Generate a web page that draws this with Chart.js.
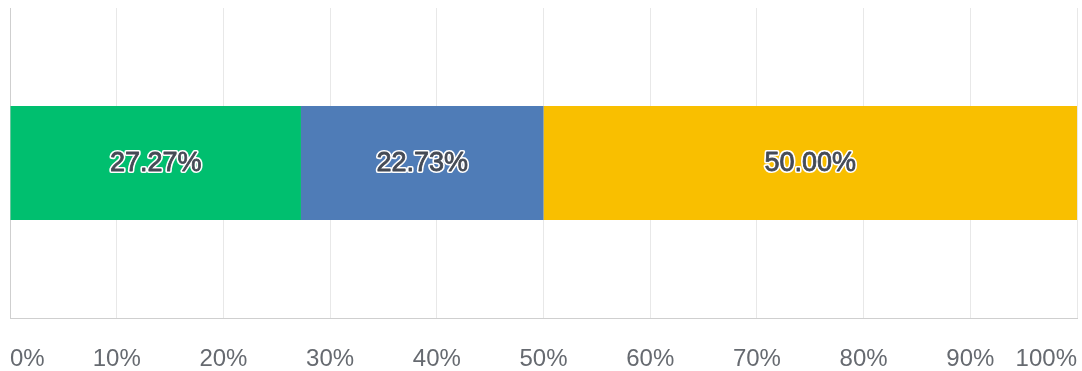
<!DOCTYPE html>
<html>
<head>
<meta charset="utf-8">
<script src="https://cdn.jsdelivr.net/npm/chart.js@4/dist/chart.umd.min.js"></script>
<style>
  html, body { margin: 0; padding: 0; background: #ffffff; }
  #wrap { width: 1082px; height: 371px; }
</style>
</head>
<body>
<div id="wrap"><canvas id="c" width="1082" height="371"></canvas></div>
<script>
// Single stacked row, shares in percent
const categories = [''];
const seriesNames = ['Segment A', 'Segment B', 'Segment C'];
const seriesValues = [[27.27], [22.73], [50.00]];
const seriesColors = ['#00bf6f', '#4f7cb7', '#f9bf00'];
const tickValues = [0, 10, 20, 30, 40, 50, 60, 70, 80, 90, 100];

// Percentage text centred on each bar segment, dark fill with white halo
const segmentLabels = {
  id: 'segmentLabels',
  afterDatasetsDraw(chart) {
    const ctx = chart.ctx;
    ctx.save();
    ctx.font = '27px "Liberation Sans", Arial, sans-serif';
    ctx.textAlign = 'center';
    ctx.textBaseline = 'middle';
    ctx.lineJoin = 'round';
    chart.data.datasets.forEach((ds, i) => {
      const meta = chart.getDatasetMeta(i);
      meta.data.forEach((bar, j) => {
        const p = bar.getProps(['x', 'y', 'base'], true);
        const cx = (p.x + p.base) / 2;
        const txt = ds.data[j].toFixed(2) + '%';
        ctx.lineWidth = 4;
        ctx.strokeStyle = '#ffffff';
        ctx.strokeText(txt, cx, p.y + 1);
        ctx.lineWidth = 0.8;
        ctx.strokeStyle = '#444a55';
        ctx.strokeText(txt, cx, p.y + 1);
        ctx.fillStyle = '#444a55';
        ctx.fillText(txt, cx, p.y + 1);
      });
    });
    ctx.restore();
  }
};

new Chart(document.getElementById('c'), {
  type: 'bar',
  data: {
    labels: categories,
    datasets: seriesNames.map((name, i) => ({
      label: name,
      data: seriesValues[i],
      backgroundColor: seriesColors[i],
      borderWidth: 0,
      barPercentage: 0.368,
      categoryPercentage: 1
    }))
  },
  options: {
    indexAxis: 'y',
    responsive: false,
    animation: false,
    layout: { padding: { left: 10, right: 5, top: 8, bottom: 0 } },
    plugins: { legend: { display: false }, tooltip: { enabled: false } },
    scales: {
      x: {
        stacked: true,
        min: 0,
        max: 100,
        afterBuildTicks(axis) { axis.ticks = tickValues.map(v => ({ value: v })); },
        afterFit(axis) {
          // edge labels are aligned inward, so no side overflow is needed
          axis.paddingLeft = 0;
          axis.paddingRight = 0;
          axis.height = 53;
        },
        grid: { color: '#e8e8e8', drawTicks: false, lineWidth: 1 },
        border: { display: true, color: '#cfcfcf', width: 1 },
        ticks: {
          align: 'inner',
          padding: 27,
          color: '#666a70',
          font: { family: '"Liberation Sans", Arial, sans-serif', size: 24 },
          maxRotation: 0,
          autoSkip: false,
          callback: v => v + '%'
        }
      },
      y: {
        stacked: true,
        grid: { display: false, drawTicks: false },
        border: { display: true, color: '#cfcfcf', width: 1 },
        ticks: { display: false }
      }
    }
  },
  plugins: [segmentLabels]
});
</script>
</body>
</html>
